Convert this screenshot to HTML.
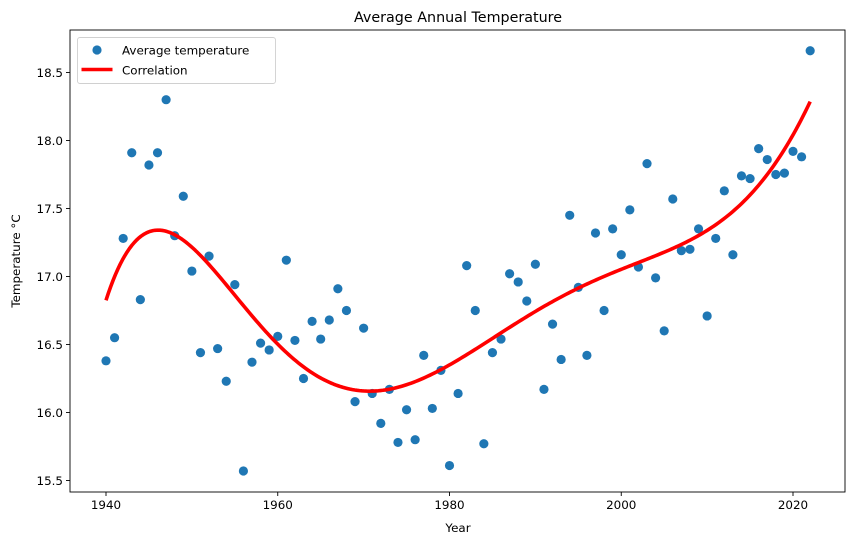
<!DOCTYPE html>
<html><head><meta charset="utf-8">
<style>
body{margin:0;background:#fff;}
svg text{font-family:"DejaVu Sans","Liberation Sans",sans-serif;fill:#000;}
</style></head>
<body>
<svg id="chart" width="855" height="545" xmlns="http://www.w3.org/2000/svg">
<rect x="0" y="0" width="855" height="545" fill="#fff"/>
<text x="458" y="22" font-size="14.3" text-anchor="middle">Average Annual Temperature</text>
<g id="plot"></g>
<text x="458" y="532" font-size="11.9" text-anchor="middle">Year</text>
<text transform="translate(20,261) rotate(-90)" font-size="11.9" text-anchor="middle">Temperature °C</text>
</svg>
<script>
const years = [];
for (let y = 1940; y <= 2022; y++) years.push(y);
const temps = [16.38,16.55,17.28,17.91,16.83,17.82,17.91,18.30,17.30,17.59,
17.04,16.44,17.15,16.47,16.23,16.94,15.57,16.37,16.51,16.46,
16.56,17.12,16.53,16.25,16.67,16.54,16.68,16.91,16.75,16.08,
16.62,16.14,15.92,16.17,15.78,16.02,15.80,16.42,16.03,16.31,
15.61,16.14,17.08,16.75,15.77,16.44,16.54,17.02,16.96,16.82,
17.09,16.17,16.65,16.39,17.45,16.92,16.42,17.32,16.75,17.35,
17.16,17.49,17.07,17.83,16.99,16.60,17.57,17.19,17.20,17.35,
16.71,17.28,17.63,17.16,17.74,17.72,17.94,17.86,17.75,17.76,
17.92,17.88,18.66];
const xTicks = [1940,1960,1980,2000,2020];
const yTicks = [15.5,16.0,16.5,17.0,17.5,18.0,18.5];
const polyDegree = 6;

const NS = "http://www.w3.org/2000/svg";
const L = 70, R = 845, T = 30, B = 492;
function xs(v){ return 106 + (v - 1940) * (793 - 106) / 80; }
function ys(v){ return 72.5 + (18.5 - v) * 136; }
const g = document.getElementById('plot');
function mk(tag, attrs, parent){
  const e = document.createElementNS(NS, tag);
  for (const k in attrs) e.setAttribute(k, attrs[k]);
  (parent || g).appendChild(e);
  return e;
}

xTicks.forEach(t => {
  const tk = mk('line', {x1:xs(t), x2:xs(t), y1:B, y2:B+4, stroke:'#000', 'stroke-width':0.9});
  
  
  const tx = mk('text', {x:xs(t), y:B+17, 'font-size':11.9, 'text-anchor':'middle'});
  tx.textContent = t;
  
  
});
yTicks.forEach(t => {
  const tk = mk('line', {x1:L-4, x2:L, y1:ys(t), y2:ys(t), stroke:'#000', 'stroke-width':0.9});
  
  
  const tx = mk('text', {x:L-7, y:ys(t)+4.3, 'font-size':11.9, 'text-anchor':'end'});
  tx.textContent = t.toFixed(1);
  
  
});

temps.forEach((v, i) => {
  const c = mk('circle', {cx:xs(years[i]), cy:ys(v), r:4.6, fill:'#1f77b4'});
  
  
});

const x0 = 1981, sc = 41;
const n = polyDegree + 1;
const A = [], bv = [];
for (let i = 0; i < n; i++){ A.push(new Array(n).fill(0)); bv.push(0); }
years.forEach((yr, k) => {
  const t = (yr - x0) / sc;
  for (let i = 0; i < n; i++){
    bv[i] += Math.pow(t, i) * temps[k];
    for (let j = 0; j < n; j++) A[i][j] += Math.pow(t, i + j);
  }
});
for (let i = 0; i < n; i++){
  let p = i;
  for (let r = i+1; r < n; r++) if (Math.abs(A[r][i]) > Math.abs(A[p][i])) p = r;
  [A[i], A[p]] = [A[p], A[i]]; [bv[i], bv[p]] = [bv[p], bv[i]];
  for (let r = i+1; r < n; r++){
    const f = A[r][i] / A[i][i];
    for (let c = i; c < n; c++) A[r][c] -= f * A[i][c];
    bv[r] -= f * bv[i];
  }
}
const coef = new Array(n).fill(0);
for (let i = n-1; i >= 0; i--){
  let s = bv[i];
  for (let c = i+1; c < n; c++) s -= A[i][c] * coef[c];
  coef[i] = s / A[i][i];
}
function fit(yr){ const t = (yr - x0)/sc; let s = 0; for (let i = 0; i < n; i++) s += coef[i]*Math.pow(t,i); return s; }
let d = '';
const y1 = years[0], y2 = years[years.length-1];
for (let k = 0; k <= 300; k++){
  const yr = y1 + (y2 - y1) * k / 300;
  d += (k ? 'L' : 'M') + xs(yr).toFixed(2) + ',' + ys(fit(yr)).toFixed(2);
}
const line = mk('path', {d:d, fill:'none', stroke:'#ff0000', 'stroke-width':3.6, 'stroke-linejoin':'round'});



const fr = mk('rect', {x:L, y:T, width:R-L, height:B-T, fill:'none', stroke:'#000', 'stroke-width':0.9});



const lg = mk('g', {});


mk('rect', {x:77.5, y:37.5, width:198, height:46, rx:2.5, fill:'#fff', 'fill-opacity':0.8, stroke:'#d0d0d0', 'stroke-width':0.9}, lg);
const le1 = mk('g', {}, lg);


mk('circle', {cx:97, cy:50, r:4.6, fill:'#1f77b4'}, le1);
const t1 = mk('text', {x:122, y:54.5, 'font-size':11.9}, le1);
t1.textContent = 'Average temperature';
const le2 = mk('g', {}, lg);


mk('line', {x1:81.5, x2:112.5, y1:69.5, y2:69.5, stroke:'#ff0000', 'stroke-width':3.6}, le2);
const t2 = mk('text', {x:122, y:74.5, 'font-size':11.9}, le2);
t2.textContent = 'Correlation';
</script>
</body></html>
